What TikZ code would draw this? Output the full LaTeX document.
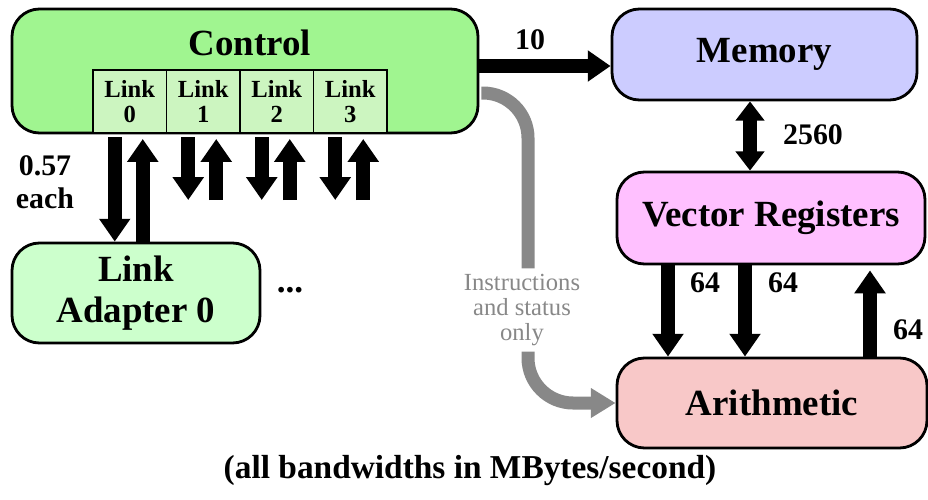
\documentclass[tikz,border=0pt]{standalone}
\usepackage{fontspec}
\setmainfont{Liberation Serif}
\usetikzlibrary{arrows.meta, positioning}
\definecolor{ctrlgreen}{HTML}{A0F590}
\definecolor{cellgreen}{HTML}{CCF5C0}
\definecolor{adaptgreen}{HTML}{CCFFCC}
\definecolor{memblue}{HTML}{CCCCFF}
\definecolor{vregpink}{HTML}{FFC0FF}
\definecolor{arithred}{HTML}{F8C8C8}
\definecolor{instrgray}{HTML}{888888}

\begin{document}
\begin{tikzpicture}[
    unit/.style={draw, line width=1.6pt, rounded corners=0.55cm, inner sep=0pt,
                 align=center, font=\fontsize{21}{23}\selectfont\bfseries},
    cell/.style={draw, line width=0.9pt, fill=cellgreen, minimum width=1.47cm,
                 minimum height=1.26cm, inner sep=0pt, outer sep=0pt, align=center,
                 font=\fontsize{14}{14}\selectfont\bfseries},
    bw/.style={line width=8pt, -{Triangle[width=17pt,length=13pt]}},
    bwboth/.style={line width=8pt, {Triangle[width=16pt,length=11pt]}-{Triangle[width=16pt,length=11pt]}},
    bwlabel/.style={font=\fontsize{17}{19}\selectfont\bfseries, align=center},
    instr/.style={line width=7.4pt, draw=instrgray, rounded corners=0.9cm},
]
\useasboundingbox (0,0) rectangle (18.56,-9.98);

% processor units
\node[unit, fill=ctrlgreen, minimum width=9.32cm, minimum height=2.48cm] (ctrl) at (4.9,-1.42) {};
\node[font=\fontsize{21}{23}\selectfont\bfseries] (ctrltext) at (5.0,-0.86) {Control};
\node[cell, anchor=west] (link0) at (1.86,-2.03) {Link\\0};
\foreach \i [count=\j from 0] in {1,2,3}
   \node[cell, right=0pt of link\j] (link\i) {Link\\\i};
\node[unit, fill=adaptgreen, minimum width=4.96cm, minimum height=2.0cm] (adapter) at (2.72,-5.86) {Link\\Adapter 0};
\node[font=\fontsize{20}{23}\selectfont\bfseries] (dots) at (5.8,-5.8) {...};
\node[unit, fill=memblue, minimum width=6.1cm, minimum height=1.82cm] (memory) at (15.29,-1.09) {Memory};
\node[unit, fill=vregpink, minimum width=6.16cm, minimum height=1.84cm] (vreg) at (15.42,-4.36) {Vector Registers};
\node[unit, fill=arithred, minimum width=6.2cm, minimum height=1.8cm] (arith) at (15.44,-8.06) {Arithmetic};

% link traffic
\coordinate (dn0) at ([xshift=-0.3cm,yshift=-0.08cm]link0.south);
\coordinate (up0) at ([xshift=0.26cm,yshift=-0.12cm]link0.south);
\draw[bw] (dn0) -- (dn0 |- adapter.north);
\draw[bw] (up0 |- adapter.north) -- (up0);
\foreach \i in {1,2,3} {
   \draw[bw] ([xshift=-0.3cm,yshift=-0.08cm]link\i.south) -- ([xshift=-0.3cm,yshift=-1.34cm]link\i.south);
   \draw[bw] ([xshift=0.26cm,yshift=-1.34cm]link\i.south) -- ([xshift=0.26cm,yshift=-0.12cm]link\i.south);
}
\node[bwlabel] (eachlbl) at (0.9,-3.65) {0.57\\each};

% memory and vector paths
\draw[bw] ([yshift=0.1cm]ctrl.east) -- ([yshift=0.1cm]ctrl.east -| memory.west);
\node[bwlabel] (memlbl) at (10.6,-0.8) {10};
\draw[bwboth] (15.0,0 |- memory.south) -- (15.0,0 |- vreg.north);
\node[bwlabel] (vreglbl) at (16.26,-2.7) {2560};
\draw[bw] (13.36,0 |- vreg.south) -- (13.36,0 |- arith.north);
\draw[bw] (14.9,0 |- vreg.south) -- (14.9,0 |- arith.north);
\draw[bw] (17.4,0 |- arith.north) -- ([yshift=-0.1cm]17.4,0 |- vreg.south);
\node[bwlabel] (opalbl) at (14.1,-5.66) {64};
\node[bwlabel] (opblbl) at (15.66,-5.66) {64};
\node[bwlabel] (reslbl) at (18.16,-6.6) {64};

% instruction path
\node[instrgray, font=\fontsize{14}{14}\selectfont, align=center] (instrtext) at (10.44,-6.2)
   {Instructions\\and status\\only};
\draw[instr] ([xshift=0.04cm,yshift=-0.44cm]ctrl.east) -| ([xshift=0.12cm]instrtext.north);
\draw[instr, -{Triangle[width=16pt,length=14pt]}] ([xshift=0.12cm]instrtext.south) |- (arith.west);

\node[font=\fontsize{19}{21}\selectfont\bfseries] (caption) at (9.4,-9.42) {(all bandwidths in MBytes/second)};
\end{tikzpicture}
\end{document}
